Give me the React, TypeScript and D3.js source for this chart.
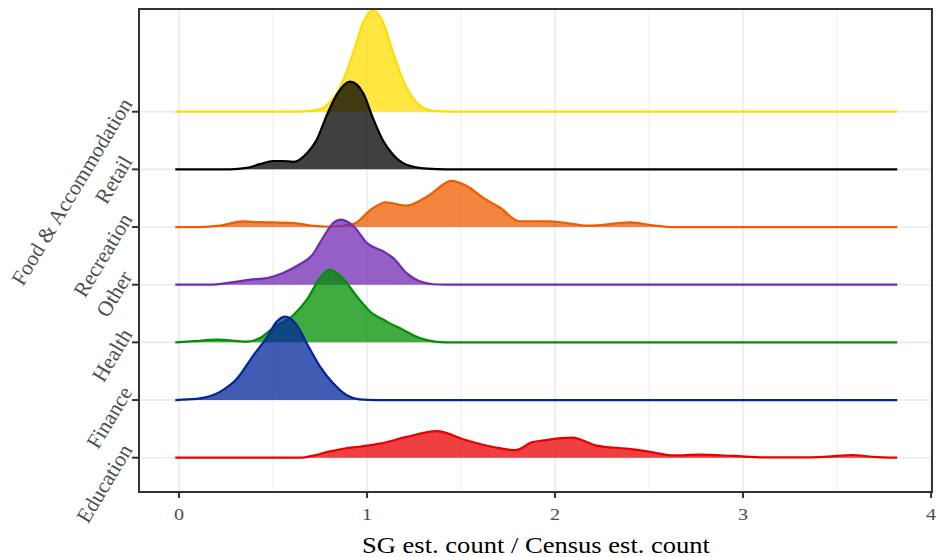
import * as d3 from "d3"

// categories bottom -> top
const categories = ["Education", "Finance", "Health", "Other", "Recreation", "Retail", "Food & Accommodation"]
const colors = ["#E80000", "#00259A", "#008F00", "#712BB1", "#EE5C00", "#000000", "#FFDD00"]

const xTicks = [0, 1, 2, 3, 4]
const xMinorTicks = [0.5, 1.5, 2.5, 3.5]

// density heights, in units of one row step, at x = SG / Census ratio
const education = [[-0.02, 0], [0.64, 0], [0.72, 0.04], [0.79, 0.1], [0.88, 0.16], [0.96, 0.19], [1.07, 0.243], [1.21, 0.36], [1.37, 0.46], [1.53, 0.3], [1.67, 0.185], [1.79, 0.13], [1.88, 0.27], [1.94, 0.3], [2.09, 0.347], [2.22, 0.21], [2.38, 0.156], [2.49, 0.11], [2.63, 0.04], [2.77, 0.052], [2.95, 0.03], [3.13, 0.005], [3.3, 0.005], [3.45, 0.02], [3.58, 0.047], [3.69, 0.015], [3.82, 0]]
const finance = [[-0.02, 0], [0.0, 0.003], [0.11, 0.03], [0.22, 0.145], [0.31, 0.376], [0.39, 0.75], [0.47, 1.1], [0.52, 1.36], [0.565, 1.445], [0.62, 1.33], [0.68, 0.98], [0.75, 0.58], [0.82, 0.29], [0.89, 0.087], [0.96, 0.012], [1.05, 0], [3.82, 0]]
const health = [[-0.02, 0], [0.08, 0.02], [0.2, 0.047], [0.36, 0.012], [0.43, 0.075], [0.5, 0.25], [0.61, 0.48], [0.68, 0.74], [0.75, 1.115], [0.8, 1.26], [0.87, 1.115], [0.945, 0.8], [1.015, 0.54], [1.105, 0.36], [1.19, 0.22], [1.28, 0.075], [1.37, 0.01], [1.45, 0], [3.82, 0]]
const other = [[-0.02, 0], [0.16, 0], [0.28, 0.04], [0.38, 0.087], [0.47, 0.116], [0.55, 0.2], [0.64, 0.35], [0.71, 0.52], [0.77, 0.84], [0.82, 1.07], [0.86, 1.13], [0.93, 1.01], [1.0, 0.72], [1.085, 0.58], [1.14, 0.46], [1.21, 0.2], [1.28, 0.058], [1.35, 0.008], [1.42, 0], [3.82, 0]]
const recreation = [[-0.02, 0], [0.1, 0], [0.22, 0.025], [0.34, 0.097], [0.42, 0.085], [0.5, 0.08], [0.61, 0.07], [0.7, 0.025], [0.8, 0.005], [0.93, 0.055], [1.02, 0.3], [1.1, 0.43], [1.21, 0.37], [1.32, 0.53], [1.45, 0.8], [1.53, 0.71], [1.62, 0.5], [1.71, 0.33], [1.81, 0.1], [1.97, 0.1], [2.1, 0.05], [2.18, 0.023], [2.4, 0.08], [2.52, 0.03], [2.63, 0], [3.82, 0]]
const retail = [[-0.02, 0], [0.27, 0], [0.36, 0.025], [0.43, 0.09], [0.5, 0.145], [0.55, 0.145], [0.61, 0.13], [0.68, 0.28], [0.73, 0.5], [0.79, 0.97], [0.84, 1.3], [0.91, 1.52], [0.98, 1.32], [1.03, 0.9], [1.085, 0.5], [1.14, 0.25], [1.21, 0.08], [1.32, 0.012], [1.42, 0], [3.82, 0]]
const food = [[-0.02, 0], [0.58, 0], [0.66, 0.004], [0.72, 0.02], [0.77, 0.075], [0.82, 0.23], [0.875, 0.56], [0.93, 1.06], [0.98, 1.55], [1.033, 1.763], [1.085, 1.55], [1.135, 1.06], [1.19, 0.56], [1.245, 0.23], [1.295, 0.075], [1.345, 0.02], [1.4, 0.004], [1.48, 0], [3.82, 0]]

const series = [education, finance, health, other, recreation, retail, food]

const W = 940
const H = 557
const panel = { left: 139, right: 932, top: 9, bottom: 492 }
const font = "'Liberation Serif', 'Times New Roman', serif"

export default function App() {
  const x = d3.scaleLinear().domain([-0.213, 4.005]).range([panel.left, panel.right])
  const y = d3.scalePoint<string>().domain(categories).range([457.7, 111.7])
  const step = y.step()
  const h = d3.scaleLinear().domain([0, 1]).range([0, step])

  // draw top row first so lower ridges overlay it
  const order = d3.range(categories.length).reverse()

  return (
    <svg width={W} height={H} style={{ position: "absolute", left: 0, top: 0, background: "#fff" }}>
      <rect x={0} y={0} width={W} height={H} fill="#fff" />
      {/* grid */}
      {xMinorTicks.map(t => (
        <line key={"mn" + t} x1={x(t)} x2={x(t)} y1={panel.top} y2={panel.bottom} stroke="#EDEDED" strokeWidth={1} />
      ))}
      {xTicks.map(t => (
        <line key={"mj" + t} x1={x(t)} x2={x(t)} y1={panel.top} y2={panel.bottom} stroke="#EBEBEB" strokeWidth={1.6} />
      ))}
      {categories.map(c => (
        <line key={"hg" + c} x1={panel.left} x2={panel.right} y1={y(c)} y2={y(c)} stroke="#EBEBEB" strokeWidth={1.6} />
      ))}
      {/* ridges */}
      {order.map(i => {
        const base = y(categories[i])!
        const area = d3.area<number[]>()
          .x(d => x(d[0]))
          .y0(base)
          .y1(d => base - h(d[1]))
          .curve(d3.curveMonotoneX)
        const line = d3.line<number[]>()
          .x(d => x(d[0]))
          .y(d => base - h(d[1]))
          .curve(d3.curveMonotoneX)
        return (
          <g key={categories[i]}>
            <path d={area(series[i] as number[][])!} fill={colors[i]} fillOpacity={0.75} stroke="none" />
            <path d={line(series[i] as number[][])!} fill="none" stroke={colors[i]} strokeWidth={2.2} strokeLinejoin="round" />
          </g>
        )
      })}
      {/* panel border */}
      <rect x={panel.left} y={panel.top} width={panel.right - panel.left} height={panel.bottom - panel.top}
        fill="none" stroke="#333333" strokeWidth={2} />
      {/* x axis */}
      {xTicks.map(t => (
        <g key={"xt" + t}>
          <line x1={x(t)} x2={x(t)} y1={panel.bottom} y2={panel.bottom + 6} stroke="#333333" strokeWidth={2} />
          <text x={x(t)} y={520} textAnchor="middle" fontFamily={font} fontSize={17.5} fill="#4D4D4D"
            transform={`translate(${x(t)},0) scale(1.15,1) translate(${-x(t)},0)`}>{t}</text>
        </g>
      ))}
      <text x={536} y={553} textAnchor="middle" fontFamily={font} fontSize={22.5} fill="#000"
        textLength={348} lengthAdjust="spacingAndGlyphs">SG est. count / Census est. count</text>
      {/* y axis */}
      {categories.map(c => (
        <g key={"yt" + c}>
          <line x1={panel.left - 7} x2={panel.left} y1={y(c)} y2={y(c)} stroke="#333333" strokeWidth={2} />
          <text transform={`translate(133,${y(c)! - 8}) rotate(-59)`} textAnchor="end" fontFamily={font}
            fontSize={21.5} fill="#4D4D4D">{c}</text>
        </g>
      ))}
    </svg>
  )
}
